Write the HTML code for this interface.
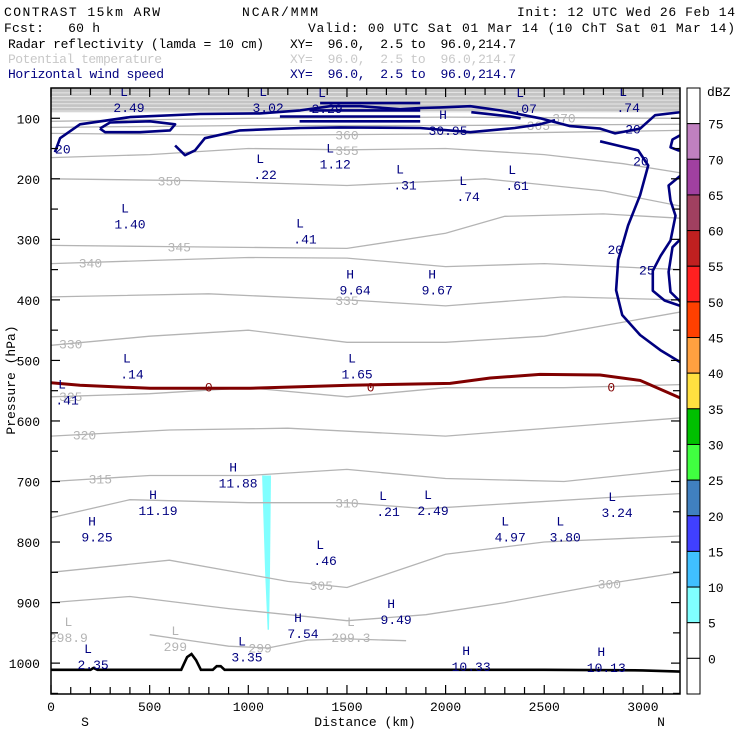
<!DOCTYPE html>
<html><head><meta charset="utf-8"><style>
html,body{margin:0;padding:0;background:#fff}
svg{display:block}
text{font-family:"Liberation Mono",monospace;font-size:13px}
</style></head><body>
<svg id="c" width="740" height="740" viewBox="0 0 740 740" xmlns="http://www.w3.org/2000/svg">
<g>
<text x="4" y="16" textLength="156">CONTRAST 15km ARW</text>
<text x="242" y="16" textLength="76">NCAR/MMM</text>
<text x="517" y="16" textLength="218">Init: 12 UTC Wed 26 Feb 14</text>
<text x="4" y="32" textLength="96" xml:space="preserve">Fcst:   60 h</text>
<text x="308" y="32" textLength="427">Valid: 00 UTC Sat 01 Mar 14 (10 ChT Sat 01 Mar 14)</text>
<text x="8" y="48" textLength="256">Radar reflectivity (lamda = 10 cm)</text>
<text x="290" y="48" textLength="226" xml:space="preserve">XY=  96.0,  2.5 to  96.0,214.7</text>
<text x="8" y="63" fill="#c8c8c8" textLength="154">Potential temperature</text>
<text x="290" y="63" fill="#c8c8c8" textLength="226" xml:space="preserve">XY=  96.0,  2.5 to  96.0,214.7</text>
<text x="8" y="78" fill="#000080" textLength="156">Horizontal wind speed</text>
<text x="290" y="78" fill="#000080" textLength="226" xml:space="preserve">XY=  96.0,  2.5 to  96.0,214.7</text>
</g>
<g id="plot"></g>
</svg>
<script>
// ---- data (km, hPa) ----
const xTicks=[0,500,1000,1500,2000,2500,3000];
const pTicks=[100,200,300,400,500,600,700,800,900,1000];
const cbLevels=[75,70,65,60,55,50,45,40,35,30,25,20,15,10,5,0];
const cbColors=["#ffffff","#c080c0","#a040a0","#a04060","#c02020","#ff2020","#ff4000","#ffa040","#ffe040","#00c000","#40ff40","#4080c0","#4040ff","#40c0ff","#80ffff","#ffffff","#ffffff"];
const thetaLevels=["370","365","360","355","350","345","340","335","330","325","320","315","310","305","300","299"];
const thetaLines=[
[[0,105],[1000,100],[2000,98],[3190,100]],
[[0,115],[1000,112],[2000,112],[3190,110]],
[[0,125],[1000,128],[2000,126],[3190,120]],
[[0,165],[500,160],[1000,150],[1500,152],[2000,150],[2500,160],[2900,175],[3190,190]],
[[0,200],[700,203],[1500,211],[2200,200],[2800,220],[3190,245]],
[[0,310],[600,312],[1500,315],[2000,290],[2300,262],[2800,258],[3190,265]],
[[0,340],[500,335],[1000,330],[1500,331],[2000,345],[2500,340],[3190,350]],
[[0,395],[800,390],[1500,400],[2000,410],[2600,395],[3190,400]],
[[0,475],[500,460],[1000,450],[1500,470],[2000,470],[2500,460],[3190,420]],
[[0,560],[500,555],[1000,545],[1500,560],[2000,545],[2600,545],[3190,540]],
[[0,625],[600,615],[1200,612],[2000,625],[2600,610],[3190,595]],
[[0,700],[500,690],[1000,690],[1500,680],[2000,695],[2600,700],[3190,680]],
[[0,760],[400,730],[1000,735],[1500,735],[1900,745],[2400,735],[2900,725],[3190,720]],
[[0,850],[600,830],[1200,865],[1500,875],[2000,820],[2500,800],[3190,790]],
[[0,900],[400,890],[900,910],[1500,930],[1900,920],[2300,900],[2800,870],[3190,850]],
[[500,953],[750,965],[900,972],[1100,975],[1300,962],[1500,960],[1800,963]]
];
const thetaLabelKm=[2600,2470,1500,1500,600,650,200,1500,100,100,170,250,1500,1370,2830,1060];
const wind20a=[[20,156],[46,133],[147,110],[400,98],[755,93],[1059,92],[1263,87],[1415,80],[1567,80],[1770,85],[1871,83],[1973,82],[2125,80],[2276,87],[2479,100],[2631,113],[2783,117],[2859,125],[2986,117],[3062,95],[3190,90]];
const wind20b=[[629,145],[679,161],[730,153],[780,133],[958,120],[1263,116],[1466,115],[1871,116],[2125,123],[2350,116],[2479,110],[2555,103]];
const wind25a=[[248,117],[299,107],[502,105],[629,110],[603,120],[451,123],[274,123],[248,117]];
const windJet1=[[1364,75],[1871,75]];
const windJet2=[[1310,87],[1871,87]];
const windJet3=[[1160,97],[1871,97]];
const windJet4=[[1260,105],[1871,105]];
const windJet5=[[2130,90],[2330,97],[2380,100]];
const wind20c=[[2783,138],[2885,146],[2976,153],[3027,178],[2986,227],[2925,277],[2875,334],[2864,384],[2895,425],[2986,458],[3088,483],[3190,503]];
const wind25b=[[3190,128],[3150,135],[3140,148],[3180,153],[3190,153]];
const wind25c=[[3190,195],[3130,211],[3140,236],[3165,261],[3140,302],[3090,327],[3050,352],[3050,385],[3110,401],[3190,410]];
const wind25d=[[3190,300],[3150,313],[3130,354],[3140,387],[3190,403]];
const windLabels=[["20",60,150],["20",2950,117],["20",2990,170],["20",2860,316],["25",3020,350]];
const freezeLine=[[0,537],[147,541],[502,546],[1009,546],[1516,541],[2023,538],[2226,529],[2479,523],[2783,524],[2986,533],[3190,562]];
const terrain=[[0,1011],[200,1011],[215,1008],[235,1011],[660,1011],[690,990],[712,985],[735,995],[760,1011],[820,1011],[840,1005],[860,1005],[880,1011],[2500,1011],[3000,1012],[3190,1014]];
const refl=[[1070,690],[1115,690],[1110,850],[1105,945],[1098,945],[1085,850]];
const hlType=["L","L","L","H","L","L","L","L","L","L","L","L","L","H","H","L","L","L","H","H","H","L","L","L","L","L","L","H","H","L","L","H","H"];
const hlValue=["2.49","3.02","2.29","30.95",".07",".74","1.12",".22",".31",".74",".61","1.40",".41","9.64","9.67",".14","1.65",".41","11.88","11.19","9.25",".21","2.49","4.97","3.80","3.24",".46","9.49","7.54","3.35","2.35","10.33","10.13"];
const hlKm=[370,1075,1374,1987,2378,2900,1415,1060,1769,2089,2337,375,1262,1516,1932,385,1526,56,923,517,208,1683,1911,2302,2581,2844,1364,1724,1252,968,188,2104,2789];
const hlP=[55,55,57,93,57,55,148,166,183,202,184,247,272,356,356,495,495,538,675,721,764,722,721,764,764,724,803,901,924,963,975,978,980];
const grayHlValue=["298.9","299","299.3"];
const grayHlKm=[88,630,1520];
const grayHlP=[955,970,955];

// ---- axes ----
const L=51,R=680,T=88,B=694,xMax=3188,pTop=50,pBot=1051;
const X=k=>L+k/xMax*(R-L);
const Y=p=>T+(p-pTop)/(pBot-pTop)*(B-T);
const NS="http://www.w3.org/2000/svg";
const plot=document.getElementById('plot');
function el(tag,attrs,parent){const e=document.createElementNS(NS,tag);for(const k in attrs)e.setAttribute(k,attrs[k]);(parent||plot).appendChild(e);return e;}
const pts=a=>a.map(q=>X(q[0]).toFixed(1)+','+Y(q[1]).toFixed(1)).join(' ');

const defs=el('defs',{});
const cp=el('clipPath',{id:'clip'},defs);
el('rect',{x:L,y:T,width:R-L,height:B-T},cp);
const g=el('g',{'clip-path':'url(#clip)'});



const band=el('rect',{x:L,y:Y(pTop),width:R-L,height:Y(90)-Y(pTop),fill:'#c4c4c4'},g);


for(let i=0;i<6;i++){const ln=el('line',{x1:L,x2:R,y1:Y(58+i*6),y2:Y(57+i*6.5),stroke:'#e6e6e6','stroke-width':1},g);

}

const rf=el('polygon',{points:pts(refl),fill:'#80ffff'},g);



thetaLines.forEach((ln,i)=>{
 const pl=el('polyline',{points:pts(ln),fill:'none',stroke:'#b4b4b4','stroke-width':1.3},g);
 
 
 const k=thetaLabelKm[i];let p=ln[0][1];
 for(let j=0;j<ln.length-1;j++){if(k>=ln[j][0]&&k<=ln[j+1][0]){const f=(k-ln[j][0])/(ln[j+1][0]-ln[j][0]);p=ln[j][1]+f*(ln[j+1][1]-ln[j][1]);}}
 const t=el('text',{x:X(k),y:Y(p)+5,fill:'#b4b4b4','text-anchor':'middle','font-size':14},g);
 t.textContent=thetaLevels[i];
 
 
});
grayHlValue.forEach((v,i)=>{
 const a=el('text',{x:X(grayHlKm[i]),y:Y(grayHlP[i])-10,fill:'#b4b4b4','text-anchor':'middle','font-size':14},g);a.textContent='L';
 
 
 const b=el('text',{x:X(grayHlKm[i]),y:Y(grayHlP[i])+6,fill:'#b4b4b4','text-anchor':'middle','font-size':14},g);b.textContent=v;
 
 
});

[wind20a,wind20b,wind25a,windJet1,windJet2,windJet3,windJet4,windJet5,wind20c,wind25b,wind25c,wind25d].forEach(ln=>{
 const pl=el('polyline',{points:pts(ln),fill:'none',stroke:'#000080','stroke-width':2.6,'stroke-linejoin':'round'},g);
 
 
});
windLabels.forEach(w=>{
 const t=el('text',{x:X(w[1]),y:Y(w[2])+5,fill:'#000080','text-anchor':'middle','font-size':14},g);t.textContent=w[0];
 
 
});

const fz=el('polyline',{points:pts(freezeLine),fill:'none',stroke:'#800000','stroke-width':3},g);


[[800,'0'],[1620,'0'],[2840,'0']].forEach(q=>{
 const t=el('text',{x:X(q[0]),y:Y(545)+4,fill:'#800000','text-anchor':'middle','font-size':11},g);t.textContent=q[1];
 
 
});

const tr=el('polyline',{points:pts(terrain),fill:'none',stroke:'#000','stroke-width':2.6},g);



hlType.forEach((h,i)=>{
 const a=el('text',{x:X(hlKm[i]),y:Y(hlP[i])+5,fill:'#000080','text-anchor':'middle','font-size':14},g);a.textContent=h;
 
 
 const b=el('text',{x:X(hlKm[i])+5,y:Y(hlP[i])+21,fill:'#000080','text-anchor':'middle','font-size':14},g);b.textContent=hlValue[i];
 
 
});

const fr=el('rect',{x:L,y:T,width:R-L,height:B-T,fill:'none',stroke:'#000','stroke-width':1.5});


for(let k=0;k<=3100;k+=100){
 const len=k%500===0?9:7;
 const a=el('line',{x1:X(k),x2:X(k),y1:B,y2:B-len,stroke:'#000','stroke-width':1.2});
 
 
 const b=el('line',{x1:X(k),x2:X(k),y1:T,y2:T+len,stroke:'#000','stroke-width':1.2});
 
 
}
xTicks.forEach(k=>{
 const t=el('text',{x:X(k),y:711,'text-anchor':'middle','font-size':12});t.textContent=k;
 
 
});
for(let p=100;p<=1050;p+=50){
 const len=p%100===0?9:7;
 const a=el('line',{x1:L,x2:L+len,y1:Y(p),y2:Y(p),stroke:'#000','stroke-width':1.2});
 
 
 const b=el('line',{x1:R,x2:R-len,y1:Y(p),y2:Y(p),stroke:'#000','stroke-width':1.2});
 
 
}
pTicks.forEach(p=>{
 const t=el('text',{x:40,y:Y(p)+5,'text-anchor':'end','font-size':12});t.textContent=p;
 
 
});
let t;
t=el('text',{x:85,y:726,'text-anchor':'middle','font-size':13});t.textContent='S';


t=el('text',{x:661,y:726,'text-anchor':'middle','font-size':13});t.textContent='N';


t=el('text',{x:365,y:726,'text-anchor':'middle','font-size':13});t.textContent='Distance (km)';


t=el('text',{x:0,y:0,'text-anchor':'middle','font-size':13,transform:'translate(15,380) rotate(-90)'});t.textContent='Pressure (hPa)';



const cbX=687,cbW=13,cbT=88,cbB=694,n=cbColors.length,h=(cbB-cbT)/n;
cbColors.forEach((c,i)=>{
 const r=el('rect',{x:cbX,y:cbT+i*h,width:cbW,height:h,fill:c,stroke:'#000','stroke-width':1});
 
 
});
cbLevels.forEach((v,i)=>{
 const tt=el('text',{x:708,y:cbT+(i+1)*h+5,'font-size':13});tt.textContent=v;
 
 
});
t=el('text',{x:707,y:96,'font-size':13});t.textContent='dBZ';


</script>
</body></html>
